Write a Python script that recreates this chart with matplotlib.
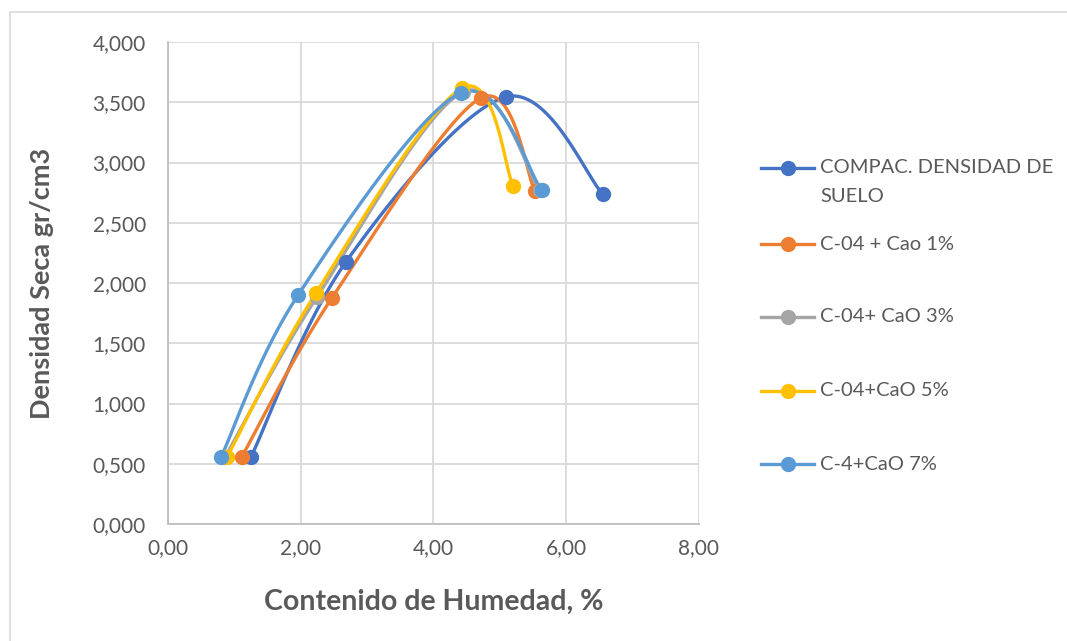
import numpy as np
import matplotlib.pyplot as plt
from matplotlib.lines import Line2D
from matplotlib.patches import Rectangle
from matplotlib.ticker import FuncFormatter, MultipleLocator

plt.rcParams['font.family'] = ['Lato', 'DejaVu Sans']

# moisture content (%) and dry density (gr/cm3) per mix
series_names = ['COMPAC. DENSIDAD DE\nSUELO', 'C-04 + Cao 1%', 'C-04+ CaO 3%',
                'C-04+CaO 5%', 'C-4+CaO 7%']
colors = ['#4472C4', '#ED7D31', '#A5A5A5', '#FFC000', '#5B9BD5']

suelo_x = [1.25, 2.68, 5.09, 6.55]
suelo_y = [0.556, 2.174, 3.544, 2.739]
cao1_x = [1.11, 2.47, 4.71, 5.53]
cao1_y = [0.556, 1.876, 3.535, 2.763]
cao3_x = [0.86, 2.24, 4.44, 5.60]
cao3_y = [0.556, 1.880, 3.585, 2.770]
cao5_x = [0.89, 2.23, 4.43, 5.20]
cao5_y = [0.556, 1.917, 3.618, 2.805]
cao7_x = [0.80, 1.96, 4.41, 5.63]
cao7_y = [0.556, 1.900, 3.577, 2.770]

xs = [suelo_x, cao1_x, cao3_x, cao5_x, cao7_x]
ys = [suelo_y, cao1_y, cao3_y, cao5_y, cao7_y]


def smooth(x, y, n=40):
    # catmull-rom style bezier through the points, like a spreadsheet "smoothed line"
    p = np.column_stack([x, y]).astype(float)
    out = []
    for i in range(len(p) - 1):
        p0 = p[i - 1] if i > 0 else p[i]
        p3 = p[i + 2] if i + 2 < len(p) else p[i + 1]
        c1 = p[i] + (p[i + 1] - p0) / 6
        c2 = p[i + 1] - (p3 - p[i]) / 6
        t = np.linspace(0, 1, n)[:, None]
        seg = ((1 - t) ** 3 * p[i] + 3 * (1 - t) ** 2 * t * c1
               + 3 * (1 - t) * t ** 2 * c2 + t ** 3 * p[i + 1])
        out.append(seg if i == 0 else seg[1:])
    out = np.vstack(out)
    return out[:, 0], out[:, 1]


fig = plt.figure(figsize=(10.67, 6.41), dpi=100)
ax = fig.add_axes([168 / 1067, 1 - 524 / 641, (699 - 168) / 1067, (524 - 42) / 641])

for x, y, c in zip(xs, ys, colors):
    sx, sy = smooth(x, y)
    ax.plot(sx, sy, color=c, lw=2.4, solid_capstyle='round', zorder=3)
    ax.plot(x, y, 'o', color=c, ms=10, zorder=4)

ax.set_xlim(0, 8)
ax.set_ylim(0, 4)
ax.xaxis.set_major_locator(MultipleLocator(2))
ax.yaxis.set_major_locator(MultipleLocator(0.5))
ax.xaxis.set_major_formatter(FuncFormatter(lambda v, p: f'{v:.2f}'.replace('.', ',')))
ax.yaxis.set_major_formatter(FuncFormatter(lambda v, p: f'{v:.3f}'.replace('.', ',')))
ax.grid(True, color='#D9D9D9', lw=1.3)
ax.set_axisbelow(True)
for side in ['top', 'right']:
    ax.spines[side].set_visible(False)
for side in ['left', 'bottom']:
    ax.spines[side].set_color('#BFBFBF')
    ax.spines[side].set_linewidth(1.3)
ax.tick_params(length=0, labelsize=15, labelcolor='#595959')
ax.tick_params(axis='x', pad=10)
ax.tick_params(axis='y', pad=16)

ax.set_xlabel('Contenido de Humedad, %', fontsize=20.5, fontweight='bold',
              color='#595959', labelpad=22)
ax.set_ylabel('Densidad Seca gr/cm3', fontsize=19.5, fontweight='bold',
              color='#595959', labelpad=28)

# legend on the right, marker aligned with the first text line
leg_y = [168, 244, 317, 391, 464]
for name, c, yy in zip(series_names, colors, leg_y):
    fy = 1 - yy / 641
    fig.add_artist(Line2D([761 / 1067, 814 / 1067], [fy, fy], color=c, lw=2.4,
                          transform=fig.transFigure))
    fig.add_artist(Line2D([788 / 1067], [fy], marker='o', color=c, ms=10,
                          transform=fig.transFigure))
    for k, line in enumerate(name.split('\n')):
        fig.text(820 / 1067, fy - k * 29 / 641, line, fontsize=14.5,
                 color='#595959', va='center')

# chart frame
fig.add_artist(Rectangle((10 / 1067, -0.1), 1.2, 1 - 12 / 641 + 0.1, fill=False,
                         edgecolor='#D9D9D9', lw=1.2, transform=fig.transFigure))

fig.savefig('out.png', dpi=100)
